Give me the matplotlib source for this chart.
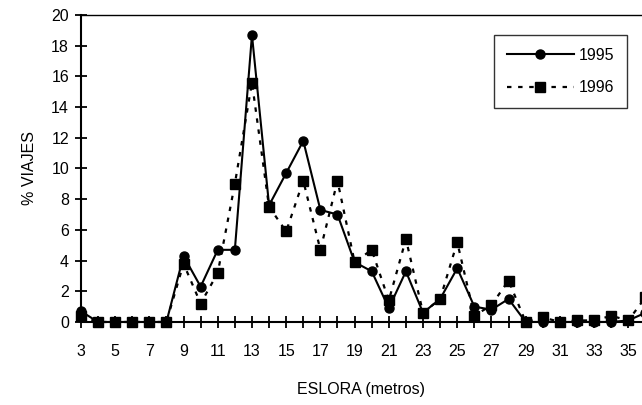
import numpy as np
import matplotlib
matplotlib.use("Agg")
import matplotlib.pyplot as plt

plt.rcParams['font.family'] = ['Liberation Sans', 'DejaVu Sans']

eslora = list(range(3, 37))
v1995 = [0.7, 0, 0, 0, 0, 0, 4.3, 2.3, 4.7, 4.7, 18.7, 7.6, 9.7, 11.8,
         7.3, 7.0, 3.9, 3.3, 0.9, 3.3, 0.6, 1.5, 3.5, 1.0, 0.8, 1.5,
         0, 0, 0, 0, 0, 0, 0.1, 0.6]
v1996 = [0.4, 0, 0, 0, 0, 0, 3.8, 1.2, 3.2, 9.0, 15.6, 7.5, 5.9, 9.2,
         4.7, 9.2, 3.9, 4.7, 1.4, 5.4, 0.6, 1.5, 5.2, 0.4, 1.1, 2.7,
         0, 0.3, 0, 0.1, 0.1, 0.4, 0.1, 1.6]

fs = 11.5

fig = plt.figure(figsize=(6.42, 4.05), dpi=100)
ax = fig.add_axes([0.126, 0.205, 0.874, 0.758])

ax.plot(eslora, v1995, color='black', linewidth=1.5, marker='o',
        markersize=6.5, label='1995', clip_on=False, zorder=3)
ax.plot(eslora, v1996, color='black', linewidth=1.6, linestyle=(0, (2, 3)),
        marker='s', markersize=6.5, label='1996', clip_on=False, zorder=3)

ax.set_xlim(3, 35.8)
ax.set_ylim(0, 20)
ax.set_xticks(range(3, 36))
ax.set_xticklabels([str(v) if v % 2 == 1 else '' for v in range(3, 36)])
ax.set_yticks(range(0, 21, 2))
ax.tick_params(axis='both', direction='inout', length=9, width=1.3,
               labelsize=fs, colors='black')
ax.tick_params(axis='x', pad=11)
ax.tick_params(axis='y', pad=4)

ax.spines['right'].set_visible(False)
for s in ['left', 'bottom']:
    ax.spines[s].set_linewidth(1.5)
ax.spines['top'].set_linewidth(1.0)

ax.set_xlabel('ESLORA (metros)', fontsize=fs, labelpad=17)
ax.set_ylabel('% VIAJES', fontsize=fs, labelpad=10)

leg = ax.legend(loc='upper left', bbox_to_anchor=(0.736, 0.935),
                frameon=True, fancybox=False, edgecolor='black',
                fontsize=fs, handlelength=4.2, borderpad=0.8,
                labelspacing=1.1, handletextpad=0.3, borderaxespad=0)
leg.get_frame().set_linewidth(1.0)

fig.savefig('out.png', dpi=100)
